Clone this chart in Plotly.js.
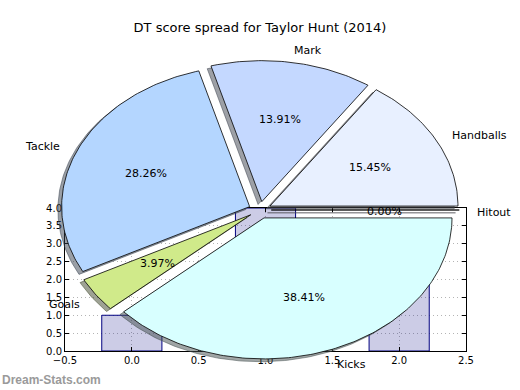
<!DOCTYPE html>
<html>
<head>
<meta charset="utf-8">
<script src="https://cdn.plot.ly/plotly-3.0.1.min.js"></script>
<style>html,body{margin:0;padding:0;background:#fff;}#chart{width:520px;height:390px;}</style>
</head>
<body>
<div id="chart"></div>
<script>
// ---- data ----
const pieLabels = ["Hitout", "Handballs", "Mark", "Tackle", "Goals", "Kicks"];
const pieValues = [0, 70, 63, 128, 18, 174];
const pieColors = ["#e6eeff", "#e8f0ff", "#c4d8ff", "#b4d6ff", "#d0ea8a", "#d8ffff"];
const barX = [0, 1, 2];
const barY = [1, 4, 3];
const xTicks = [-0.5, 0, 0.5, 1, 1.5, 2, 2.5];
const yTicks = [0, 0.5, 1, 1.5, 2, 2.5, 3, 3.5, 4];
const titleText = "DT score spread for Taylor Hunt (2014)";

// ---- layout constants ----
const W = 520, H = 390;
const explode = 0.06, labelDist = 1.1, pctDist = 0.6, shadowOff = 0.02;
const cx = 260, cy = 210, rx = 188, ry = 141; // pixel centre and radii of pie

const traces = [];
// bars (subplot xy)
traces.push({
  type: "bar", x: barX, y: barY, width: 0.45, xaxis: "x", yaxis: "y",
  marker: {color: "rgba(0,0,128,0.2)", line: {color: "#000080", width: 1}},
  hoverinfo: "skip", showlegend: false
});

// pie wedges (subplot x2y2)
const total = pieValues.reduce((a, b) => a + b, 0);
const wedges = [];
let acc = 0;
pieValues.forEach((v, i) => {
  const t1 = acc / total * 2 * Math.PI;
  acc += v;
  const t2 = acc / total * 2 * Math.PI;
  const mid = (t1 + t2) / 2;
  const ox = explode * Math.cos(mid), oy = explode * Math.sin(mid);
  const xs = [ox], ys = [oy];
  const n = Math.max(2, Math.ceil((t2 - t1) / (Math.PI / 180)));
  for (let k = 0; k <= n; k++) {
    const t = t1 + (t2 - t1) * k / n;
    xs.push(ox + Math.cos(t));
    ys.push(oy + Math.sin(t));
  }
  xs.push(ox); ys.push(oy);
  wedges.push({xs, ys, ox, oy, mid, i, v});
});

function hexToRgb(h) {
  return [parseInt(h.slice(1, 3), 16), parseInt(h.slice(3, 5), 16), parseInt(h.slice(5, 7), 16)];
}
// shadows first
wedges.forEach(w => {
  const c = hexToRgb(pieColors[w.i]).map(q => Math.round(q * 0.3));
  const col = `rgba(${c[0]},${c[1]},${c[2]},0.5)`;
  traces.push({
    type: "scatter", mode: "lines", xaxis: "x2", yaxis: "y2",
    x: w.xs.map(q => q - shadowOff), y: w.ys.map(q => q - shadowOff),
    fill: "toself", fillcolor: col, line: {color: col, width: 1},
    hoverinfo: "skip", showlegend: false
  });
});
wedges.forEach(w => {
  traces.push({
    type: "scatter", mode: "lines", xaxis: "x2", yaxis: "y2",
    x: w.xs, y: w.ys,
    fill: "toself", fillcolor: pieColors[w.i], line: {color: "#000", width: 0.8},
    hoverinfo: "skip", showlegend: false
  });
});

const annotations = [];
const textFont = {family: "DejaVu Sans", size: 11, color: "#000"};
wedges.forEach(w => {
  const c = Math.cos(w.mid), s = Math.sin(w.mid);
  annotations.push({
    xref: "x2", yref: "y2", x: w.ox + labelDist * c, y: w.oy + labelDist * s,
    text: pieLabels[w.i], showarrow: false, font: textFont,
    xanchor: c > 0 ? "left" : "right", yanchor: "middle",
    xshift: c > 0 ? -3 : 2, yshift: -2
  });
  annotations.push({
    xref: "x2", yref: "y2", x: w.ox + pctDist * c, y: w.oy + pctDist * s,
    text: (w.v / total * 100).toFixed(2) + "%", showarrow: false, font: textFont,
    xanchor: "center", yanchor: "middle", yshift: -1
  });
});
annotations.push({
  xref: "paper", yref: "paper", x: 0, y: 1 - 380 / H, xanchor: "left", yanchor: "middle",
  text: "<b>Dream-Stats.com</b>", showarrow: false,
  font: {family: "Liberation Sans", size: 12, color: "#9a9a9a"}
});

const axL = 65, axR = 466, axT = 208, axB = 351;
const axisCommon = {
  showline: true, linecolor: "#000", linewidth: 1, mirror: "ticks",
  ticks: "inside", ticklen: 4, tickcolor: "#000",
  showgrid: true, gridcolor: "#b4b4b4", griddash: "1px,3px", gridwidth: 1,
  zeroline: false, tickfont: {family: "DejaVu Sans", size: 10, color: "#000"},
  tickformat: ".1f", fixedrange: true
};

const layout = {
  width: W, height: H,
  margin: {l: 0, r: 0, t: 0, b: 0, pad: 0},
  paper_bgcolor: "#fff", plot_bgcolor: "rgba(0,0,0,0)",
  showlegend: false,
  title: {text: titleText, x: 0.5, xanchor: "center", y: 1 - 27 / H, yanchor: "middle",
          font: {family: "DejaVu Sans", size: 13, color: "#000"}},
  xaxis: Object.assign({}, axisCommon, {domain: [axL / W, axR / W], range: [-0.5, 2.5],
          tickvals: xTicks, anchor: "y"}),
  yaxis: Object.assign({}, axisCommon, {domain: [1 - axB / H, 1 - axT / H], range: [0, 4],
          tickvals: yTicks, anchor: "x"}),
  xaxis2: {domain: [0, 1], range: [-cx / rx, (W - cx) / rx], visible: false, anchor: "y2", fixedrange: true},
  yaxis2: {domain: [0, 1], range: [-(H - cy) / ry, cy / ry], visible: false, anchor: "x2", fixedrange: true},
  annotations: annotations
};

Plotly.newPlot("chart", traces, layout, {displayModeBar: false, staticPlot: true});
</script>
</body>
</html>
